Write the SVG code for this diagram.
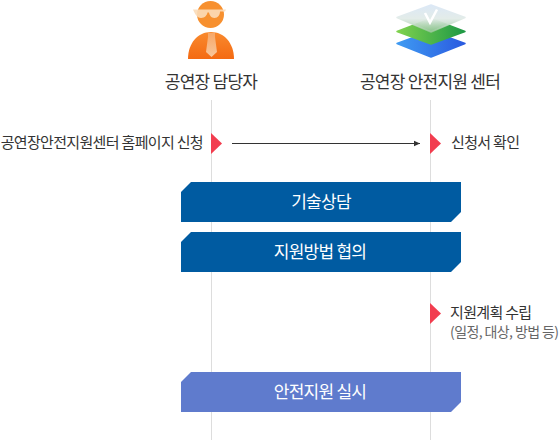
<svg xmlns="http://www.w3.org/2000/svg" width="559" height="440" viewBox="0 0 559 440">
<style>
text{font-family:"Noto Sans CJK KR","Noto Sans",sans-serif}
.h{font-size:17px;fill:#333;text-anchor:middle;letter-spacing:-0.75px}
.t{font-size:15px;fill:#333;letter-spacing:-0.67px}
.s{font-size:14px;fill:#666;letter-spacing:-0.6px}
.w{font-size:17px;fill:#fff;text-anchor:middle;letter-spacing:-0.75px}
.life{stroke:#ddd;stroke-width:1;fill:none}
.tri{fill:#f23d4f}
</style>
<defs>
<marker id="arr" markerWidth="7" markerHeight="7" refX="6.500" refY="3.500" orient="auto" markerUnits="userSpaceOnUse"><path d="M0 0.500L6.500 3.500L0 6.500z" fill="#333"/></marker>
<linearGradient id="body" x1="0" y1="0" x2="0" y2="1"><stop offset="0" stop-color="#f98a2e"/><stop offset="1" stop-color="#f46a12"/></linearGradient>
<linearGradient id="tie" x1="0" y1="0" x2="0" y2="1"><stop offset="0" stop-color="#f7a768"/><stop offset="1" stop-color="#f8c79c"/></linearGradient>
<linearGradient id="top" x1="0" y1="0" x2="0" y2="1"><stop offset="0" stop-color="#dce8f6"/><stop offset="0.5" stop-color="#e3ece9"/><stop offset="1" stop-color="#9fc9a0" stop-opacity="0.75"/></linearGradient>
<linearGradient id="mid" x1="0" y1="0" x2="1" y2="0"><stop offset="0" stop-color="#80d24e"/><stop offset="1" stop-color="#1d9845"/></linearGradient>
<linearGradient id="bot" x1="0" y1="0" x2="1" y2="0"><stop offset="0" stop-color="#3f9bf2"/><stop offset="1" stop-color="#2a5ae0"/></linearGradient>
</defs>
<g id="connectors">
<line class="life" x1="211.500" y1="100" x2="211.500" y2="440"/>
<line class="life" x1="430.500" y1="100" x2="430.500" y2="440"/>
<line x1="232" y1="143.500" x2="420" y2="143.500" stroke="#333" stroke-width="1" marker-end="url(#arr)"/>
</g>
<g id="actor-manager">
<path d="M188 59C188 43 198 32 211 32C224 32 234 43 234 59z" fill="url(#body)"/>
<circle cx="210.500" cy="14.500" r="13.500" fill="#f7902f"/>
<path d="M193 9.500L226 9.500L225 11.500L220 11.500C220 15 218 18 214.500 18C211 18 209.500 15 209 12.500L207.500 12.500C207 15 205 18 201 18C197 18 195 14 193 9.500z" fill="#fbdcb8" opacity="0.9"/>
<path d="M208 33L215 33L215 37L217 52L211.500 57L206 52L208 37z" fill="url(#tie)"/>
<text class="h" x="211" y="88">공연장 담당자</text>
</g>
<g id="actor-center">
<path d="M431 31L465 43.500L431 57L397 43.500z" fill="url(#bot)" stroke="url(#bot)" stroke-width="1.500" stroke-linejoin="round"/>
<path d="M431 18.500L465 31.500L431 44L397 31.500z" fill="url(#mid)" stroke="url(#mid)" stroke-width="1.500" stroke-linejoin="round"/>
<path d="M431 5L465 17.500L431 32L397 17.500z" fill="url(#top)" stroke="url(#top)" stroke-width="1.500" stroke-linejoin="round"/>
<path d="M425 13L430 22.500L437 9.500" fill="none" stroke="#fff" stroke-width="2.500"/>
<text class="h" x="430" y="88">공연장 안전지원 센터</text>
</g>
<g id="step-apply">
<text class="t" x="203" y="148" text-anchor="end">공연장안전지원센터 홈페이지 신청</text>
<path class="tri" d="M211 133L222 143.500L211 154z"/>
</g>
<g id="step-confirm">
<path class="tri" d="M430 133L441 143.500L430 154z"/>
<text class="t" x="451" y="148">신청서 확인</text>
</g>
<g id="step-consult">
<path d="M191 182H461V212L451 222H181V192z" fill="#005ba1"/>
<text class="w" x="321" y="207.500">기술상담</text>
</g>
<g id="step-method">
<path d="M191 232H461V262L451 272H181V242z" fill="#005ba1"/>
<text class="w" x="320" y="257.500">지원방법 협의</text>
</g>
<g id="step-plan">
<path class="tri" d="M430 303L441 313.500L430 324z"/>
<text class="t" x="450" y="318">지원계획 수립</text>
<text class="s" x="450" y="337">(일정, 대상, 방법 등)</text>
</g>
<g id="step-run">
<path d="M191 372H461V402L451 412H181V382z" fill="#5f7bcd"/>
<text class="w" x="320" y="397.500">안전지원 실시</text>
</g>
</svg>
